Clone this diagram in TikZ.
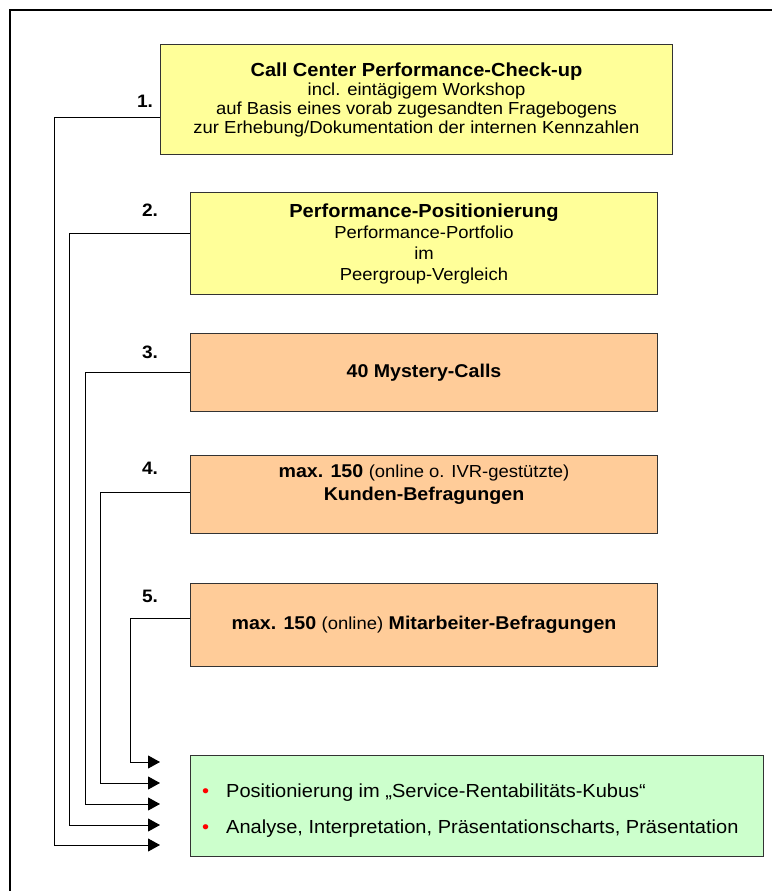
\documentclass[tikz,border=0pt]{standalone}
\usepackage{fontspec}
\setmainfont{Liberation Sans}[FakeStretch=1.06]
\usetikzlibrary{arrows.meta}
\definecolor{yel}{HTML}{FFFF99}
\definecolor{ora}{HTML}{FFCC99}
\definecolor{grn}{HTML}{CCFFCC}
\tikzset{
  boxstyle/.style={draw=black!80, line width=1pt, rectangle, anchor=north west, inner sep=0pt, align=center},
  numlabel/.style={font=\fontsize{18}{20}\selectfont\bfseries},
  conn/.style={draw=black, line width=0.9pt},
  arr/.style={conn, -{Triangle[length=12pt,width=13pt]}},
}
\newcommand{\ttl}{\bfseries\fontsize{18.9}{21}\selectfont}
\begin{document}
\begin{tikzpicture}[x=1pt,y=-1pt]
\useasboundingbox (0,0) rectangle (772,891);
\fill[white] (0,0) rectangle (772,891);
\draw[line width=1.3pt] (10,891) -- (10,10) -- (772,10);

\node[boxstyle, fill=yel, minimum width=512pt, minimum height=110pt, font=\fontsize{17.4}{19}\selectfont] (b1) at (160,44)
  {{\ttl Call Center Performance-Check-up}\\incl. eintägigem Workshop\\auf Basis eines vorab zugesandten Fragebogens\\zur Erhebung/Dokumentation der internen Kennzahlen};
\node[boxstyle, fill=yel, minimum width=467pt, minimum height=102pt, font=\fontsize{17.4}{21}\selectfont] (b2) at (190,192)
  {{\ttl Performance-Positionierung}\\Performance-Portfolio\\im\\Peergroup-Vergleich};
\node[boxstyle, fill=ora, minimum width=467pt, minimum height=78pt, font=\fontsize{18.5}{21}\selectfont] (b3) at (190,333)
  {\bfseries 40 Mystery-Calls};
\node[boxstyle, fill=ora, minimum width=467pt, minimum height=78pt] (b4) at (190,455) {};
\node[align=center, font=\fontsize{18.5}{23}\selectfont] (t4) at (b4.center |- 0,484) {{\bfseries max. 150} {\fontsize{17.4}{21}\selectfont(online o. IVR-gestützte)}\\{\bfseries Kunden-Befragungen}};
\node[boxstyle, fill=ora, minimum width=467pt, minimum height=83pt, font=\fontsize{18.5}{21}\selectfont] (b5) at (190,583)
  {{\bfseries max. 150} {\fontsize{17.4}{21}\selectfont(online)} {\bfseries Mitarbeiter-Befragungen}};
\node[boxstyle, fill=grn, minimum width=573pt, minimum height=101pt] (g) at (190,755) {};

\node[numlabel] (n1) at (145,101) {1.};
\node[numlabel] (n2) at (150,210) {2.};
\node[numlabel] (n3) at (150,352) {3.};
\node[numlabel] (n4) at (150,468) {4.};
\node[numlabel] (n5) at (150,596) {5.};

\node[anchor=west, inner sep=0pt, font=\fontsize{18.9}{21}\selectfont] (l1) at (202,793) {\textcolor{red}{\textbullet}\hspace{17pt}Positionierung im „Service-Rentabilitäts-Kubus“};
\node[anchor=west, inner sep=0pt, font=\fontsize{18.9}{21}\selectfont] (l2) at (202,829) {\textcolor{red}{\textbullet}\hspace{17pt}Analyse, Interpretation, Präsentationscharts, Präsentation};

\coordinate (e1) at (160,845);
\coordinate (e2) at (160,825);
\coordinate (e3) at (160,804);
\coordinate (e4) at (160,783);
\coordinate (e5) at (160,762);

\draw[arr] (b1.west |- 0,117) -- (54,117) -- (54,845) -- (e1);
\draw[arr] (b2.west |- 0,233) -- (69,233) -- (69,825) -- (e2);
\draw[arr] (b3.west |- 0,372) -- (85,372) -- (85,804) -- (e3);
\draw[arr] (b4.west |- 0,492) -- (100,492) -- (100,783) -- (e4);
\draw[arr] (b5.west |- 0,618) -- (130,618) -- (130,762) -- (e5);
\end{tikzpicture}
\end{document}
